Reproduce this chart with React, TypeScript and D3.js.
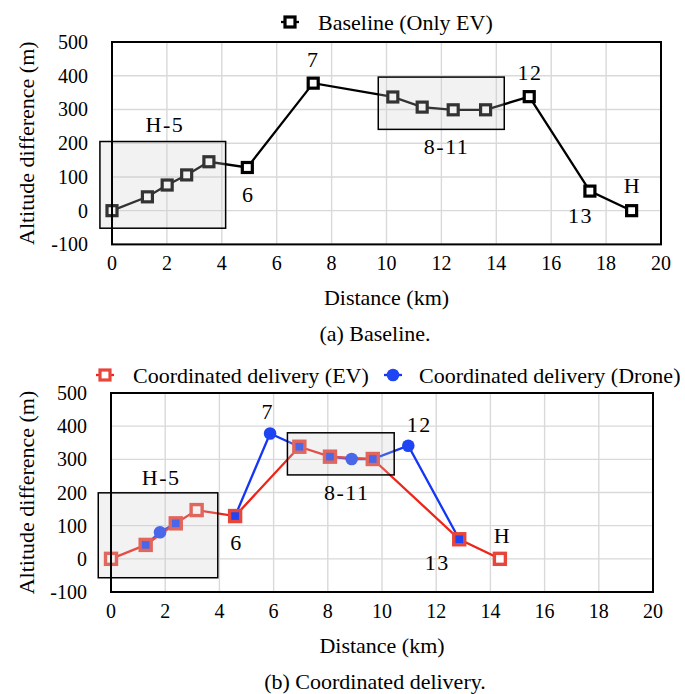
import React from "react";
import * as d3 from "d3";

// ---------- data ----------
const xTicks = [0, 2, 4, 6, 8, 10, 12, 14, 16, 18, 20];
const yTicks = [-100, 0, 100, 200, 300, 400, 500];

// (a) Baseline (Only EV)
const baseDist = [0, 1.29, 2.01, 2.72, 3.53, 4.93, 7.33, 10.23, 11.3, 12.43, 13.61, 15.2, 17.41, 18.93];
const baseAlt = [0, 41, 76, 106, 145, 128, 378, 337, 307, 299, 299, 338, 58, 0];

// (b) Coordinated delivery (EV)
const evDist = [0, 1.28, 2.39, 3.16, 4.58, 6.95, 8.08, 9.66, 12.85, 14.35];
const evAlt = [0, 42, 107, 147, 129, 338, 308, 301, 59, 0];
const evWithDrone = [false, true, true, false, true, true, true, true, true, false];

// (b) Coordinated delivery (Drone) sorties
const droneDist = [
  [1.28, 1.81, 2.39],
  [4.58, 5.87, 6.95],
  [8.08, 8.88, 9.66, 10.97, 12.85],
];
const droneAlt = [
  [42, 80, 107],
  [129, 378, 338],
  [308, 301, 301, 341, 59],
];
const droneStopDist = [1.81, 5.87, 8.88, 10.97];
const droneStopAlt = [80, 378, 301, 341];

// node labels (anchor in data units)
const topLabelText = ["H-5", "6", "7", "12", "8-11", "13", "H"];
const topLabelX = [1.93, 4.94, 7.3, 15.23, 12.19, 17.07, 18.93];
const topLabelY = [233, 26, 426, 388, 168, -36, 52];

const botLabelText = ["H-5", "6", "7", "8-11", "12", "13", "H"];
const botLabelX = [1.85, 4.6, 5.76, 8.7, 11.37, 12.04, 14.42];
const botLabelY = [222, 26, 421, 177, 383, -34, 48];

// grouping boxes [x0, x1, yLow, yHigh]
const topBoxes = [
  [-0.44, 4.14, -52, 205],
  [9.7, 14.29, 241, 396],
];
const botBoxes = [
  [-0.47, 3.94, -57, 199],
  [6.51, 10.45, 253, 380],
];

// ---------- style ----------
const FONT = "Liberation Serif, DejaVu Serif, serif";
const RED_LINE = "#ee2418";
const RED_MARK = "#e8463a";
const BLUE_LINE = "#1536f5";
const BLUE_MARK = "#1f44f3";
const GRID = "#d9d9d9";

const T = (size: number): React.CSSProperties => ({ fontFamily: FONT, fontSize: size });

type PanelProps = {
  left: number;
  right: number;
  top: number;
  bottom: number;
  boxes: number[][];
  labelText: string[];
  labelX: number[];
  labelY: number[];
  children: (x: d3.ScaleLinear<number, number>, y: d3.ScaleLinear<number, number>) => React.ReactNode;
};

function Panel({ left, right, top, bottom, boxes, labelText, labelX, labelY, children }: PanelProps) {
  const x = d3.scaleLinear().domain([0, 20]).range([left, right]);
  const y = d3.scaleLinear().domain([-100, 500]).range([bottom, top]);
  return (
    <g>
      {xTicks.map((t) => (
        <line key={"gx" + t} x1={x(t)} x2={x(t)} y1={top} y2={bottom} stroke={GRID} strokeWidth={1.4} />
      ))}
      {yTicks.map((t) => (
        <line key={"gy" + t} x1={left} x2={right} y1={y(t)} y2={y(t)} stroke={GRID} strokeWidth={1.4} />
      ))}
      {children(x, y)}
      {boxes.map((b, i) => (
        <rect
          key={"box" + i}
          x={x(b[0])}
          y={y(b[3])}
          width={x(b[1]) - x(b[0])}
          height={y(b[2]) - y(b[3])}
          fill="rgb(203,203,203)"
          fillOpacity={0.25}
          stroke="#000"
          strokeWidth={1.5}
        />
      ))}
      <rect x={left} y={top} width={right - left} height={bottom - top} fill="none" stroke="#000" strokeWidth={2} />
      {xTicks.map((t) => (
        <text key={"tx" + t} x={x(t)} y={bottom + 26} textAnchor="middle" style={T(20)}>
          {t}
        </text>
      ))}
      {yTicks.map((t) => (
        <text key={"ty" + t} x={left - 24} y={y(t) + 7} textAnchor="end" style={T(20)}>
          {t}
        </text>
      ))}
      <text x={(left + right) / 2} y={bottom + 61} textAnchor="middle" style={T(22)}>
        Distance (km)
      </text>
      <text transform={`translate(34,${(top + bottom) / 2}) rotate(-90)`} textAnchor="middle" style={T(22)}>
        Altitude difference (m)
      </text>
      {labelText.map((s, i) => (
        <text
          key={"lab" + i}
          x={x(labelX[i])}
          y={y(labelY[i])}
          textAnchor="middle"
          style={{ ...T(22), letterSpacing: s.length > 1 ? 1.5 : 0 }}
        >
          {s}
        </text>
      ))}
    </g>
  );
}

export default function App() {
  const idx = (arr: number[]) => arr.map((_, i) => i);
  return (
    <svg width={685} height={694} style={{ position: "absolute", left: 0, top: 0, background: "#fff" }}>
      <rect x={0} y={0} width={685} height={694} fill="#fff" />
      {/* ---- legend (a) ---- */}
      <line x1={281} x2={299} y1={22} y2={22} stroke="#000" strokeWidth={2.3} />
      <rect x={285} y={17} width={10} height={10} fill="#fff" stroke="#000" strokeWidth={3.2} />
      <text x={318} y={29.5} style={T(22)}>
        Baseline (Only EV)
      </text>

      <Panel
        left={112}
        right={661}
        top={42}
        bottom={244.4}
        boxes={topBoxes}
        labelText={topLabelText}
        labelX={topLabelX}
        labelY={topLabelY}
      >
        {(x, y) => {
          const line = d3
            .line<number>()
            .x((i) => x(baseDist[i]))
            .y((i) => y(baseAlt[i]));
          return (
            <g>
              <path d={line(idx(baseDist)) || ""} fill="none" stroke="#000" strokeWidth={2.3} />
              {baseDist.map((d, i) => (
                <rect
                  key={"bm" + i}
                  x={x(d) - 5}
                  y={y(baseAlt[i]) - 5}
                  width={10}
                  height={10}
                  fill="#fff"
                  stroke="#000"
                  strokeWidth={3.2}
                />
              ))}
            </g>
          );
        }}
      </Panel>

      <text x={375} y={341} textAnchor="middle" style={T(22)}>
        (a) Baseline.
      </text>

      {/* ---- legend (b) ---- */}
      <line x1={96} x2={114} y1={375} y2={375} stroke={RED_LINE} strokeWidth={2.3} />
      <rect x={100} y={370} width={10} height={10} fill="#fff" stroke={RED_MARK} strokeWidth={3.2} />
      <text x={133} y={382.5} style={T(22)}>
        Coordinated delivery (EV)
      </text>
      <line x1={384} x2={402} y1={375} y2={375} stroke={BLUE_LINE} strokeWidth={2.3} />
      <circle cx={393} cy={375} r={6.3} fill={BLUE_MARK} />
      <text x={419} y={382.5} style={T(22)}>
        Coordinated delivery (Drone)
      </text>

      <Panel
        left={111}
        right={653}
        top={393}
        bottom={592}
        boxes={botBoxes}
        labelText={botLabelText}
        labelX={botLabelX}
        labelY={botLabelY}
      >
        {(x, y) => {
          const evLine = d3
            .line<number>()
            .x((i) => x(evDist[i]))
            .y((i) => y(evAlt[i]));
          return (
            <g>
              {droneDist.map((ds, k) => {
                const dl = d3
                  .line<number>()
                  .x((i) => x(ds[i]))
                  .y((i) => y(droneAlt[k][i]));
                return <path key={"dl" + k} d={dl(idx(ds)) || ""} fill="none" stroke={BLUE_LINE} strokeWidth={2.3} />;
              })}
              <path d={evLine(idx(evDist)) || ""} fill="none" stroke={RED_LINE} strokeWidth={2.3} />
              {evDist.map((d, i) => (
                <rect
                  key={"em" + i}
                  x={x(d) - 5.5}
                  y={y(evAlt[i]) - 5.5}
                  width={11}
                  height={11}
                  fill={evWithDrone[i] ? BLUE_MARK : "#fff"}
                  stroke={RED_MARK}
                  strokeWidth={3.4}
                />
              ))}
              {droneStopDist.map((d, i) => (
                <circle key={"dc" + i} cx={x(d)} cy={y(droneStopAlt[i])} r={6.3} fill={BLUE_MARK} />
              ))}
            </g>
          );
        }}
      </Panel>

      <text x={375} y={689} textAnchor="middle" style={T(22)}>
        (b) Coordinated delivery.
      </text>
    </svg>
  );
}
